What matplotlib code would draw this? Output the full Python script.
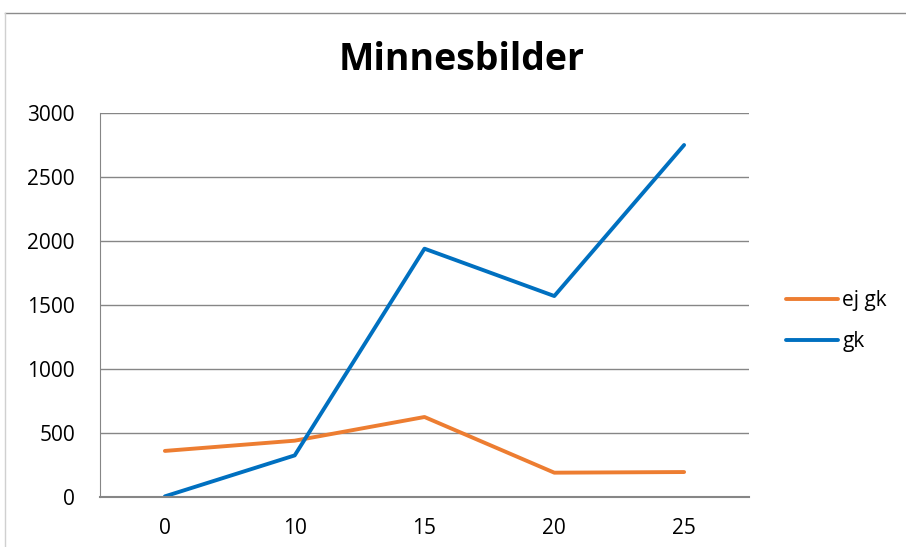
import matplotlib
matplotlib.use("Agg")
import matplotlib.pyplot as plt
from matplotlib.lines import Line2D

# Values
categories = ["0", "10", "15", "20", "25"]
ej_gk = [360, 440, 625, 190, 195]
gk = [5, 325, 1940, 1570, 2750]
y_ticks = [0, 500, 1000, 1500, 2000, 2500, 3000]

ORANGE = "#ED7D31"
BLUE = "#0070C0"
GRID = "#868686"

plt.rcParams["font.family"] = ["Open Sans", "DejaVu Sans"]

W, H = 906, 547
fig = plt.figure(figsize=(W / 100, H / 100), dpi=100)

# Plot area in pixel coords: x 100..749, y 113..497
ax = fig.add_axes([100 / W, 1 - 497 / H, 649 / W, 384 / H])

xs = range(len(categories))
ax.plot(xs, ej_gk, color=ORANGE, linewidth=2.8, label="ej gk", solid_capstyle="round")
ax.plot(xs, gk, color=BLUE, linewidth=2.8, label="gk", solid_capstyle="round")

ax.set_xlim(-0.5, len(categories) - 0.5)
ax.set_ylim(0, 3000)
ax.set_xticks(list(xs))
ax.set_xticklabels(categories)
ax.set_yticks(y_ticks)
ax.tick_params(axis="both", length=0, labelsize=15, colors="black")
ax.tick_params(axis="x", pad=15)
ax.tick_params(axis="y", pad=18)

ax.grid(axis="y", color=GRID, linewidth=1)
ax.set_axisbelow(True)
for side in ("top", "right"):
    ax.spines[side].set_visible(False)
ax.spines["left"].set_color(GRID)
ax.spines["bottom"].set_color(GRID)
ax.spines["bottom"].set_linewidth(1.5)

fig.text(462 / W, 1 - 60 / H, "Minnesbilder", ha="center", va="center",
         fontsize=27, fontweight="bold")

ax.legend(loc="center left", bbox_to_anchor=(782 / W, 1 - 321 / H),
          bbox_transform=fig.transFigure, frameon=False, fontsize=15,
          handlelength=2.5, handletextpad=0.2, labelspacing=0.95,
          borderaxespad=0, borderpad=0.2)

# Outer chart frame (partially visible in reference)
fig.add_artist(Line2D([5 / W, 1], [1 - 13 / H, 1 - 13 / H], color="#8c8c8c",
                      linewidth=1, transform=fig.transFigure))
fig.add_artist(Line2D([5 / W, 5 / W], [0, 1 - 13 / H], color="#d0d0d0",
                      linewidth=1, transform=fig.transFigure))

fig.savefig("out.png", dpi=100)
